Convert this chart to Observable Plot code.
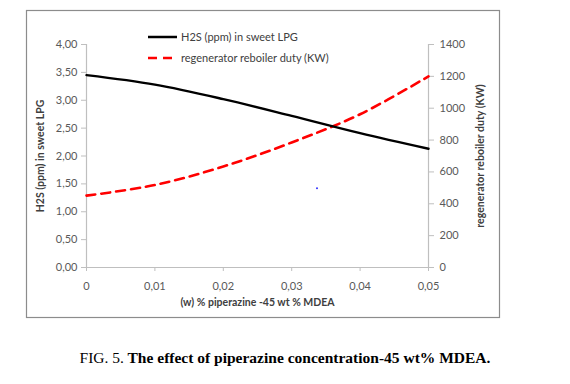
<!DOCTYPE html>
<html>
<head>
<meta charset="utf-8">
<script src="https://cdn.jsdelivr.net/npm/d3@7"></script>
<script src="https://cdn.jsdelivr.net/npm/@observablehq/plot@0.6"></script>
<style>
  body { margin: 0; background: #fff; }
  #wrap { position: relative; width: 570px; height: 384px; font-family: Lato, "Open Sans", sans-serif; }
  #legend { position: absolute; left: 148px; top: 26px; font-size: 11px; color: #404040; }
  #legend div { height: 21px; display: flex; align-items: center; }
  #legend svg { margin-right: 4px; }
  #caption { position: absolute; left: 0; width: 570px; top: 349px; text-align: center; font-family: "Liberation Serif", "Times New Roman", serif; font-size: 15.5px; font-weight: bold; color: #000; }
  #caption span { font-weight: normal; }
  #chart { position: absolute; left: 0; top: 0; }
</style>
</head>
<body>
<div id="wrap">
  <div id="chart"></div>
  <div id="legend">
    <div><svg width="29" height="6"><line x1="0" x2="29" y1="3" y2="3" stroke="#000" stroke-width="2.5"/></svg>H2S (ppm) in sweet LPG</div>
    <div><svg width="29" height="6"><line x1="0" x2="29" y1="3" y2="3" stroke="#ff0000" stroke-width="2.5" stroke-dasharray="9,6"/></svg>regenerator reboiler duty (KW)</div>
  </div>
  <div id="caption"><span>FIG. 5.</span> The effect of piperazine concentration-45 wt% MDEA.</div>
</div>
<script>
// Data
const piperazine = [0, 0.01, 0.02, 0.03, 0.04, 0.05];
const h2s = [3.45, 3.28, 3.02, 2.72, 2.41, 2.13];          // ppm, left axis
const duty = [451, 518, 634, 785, 962, 1200];               // KW, right axis
const strayPoint = [{x: 0.0337, y: 1.42}];                  // small blue artifact in the reference

const xTicks = [0, 0.01, 0.02, 0.03, 0.04, 0.05];
const leftTicks = [0, 0.5, 1, 1.5, 2, 2.5, 3, 3.5, 4];
const rightTicks = [0, 200, 400, 600, 800, 1000, 1200, 1400];

const ratio = 1400 / 4; // right axis units per left axis unit

const h2sData = piperazine.map((x, i) => ({x, y: h2s[i]}));
const dutyData = piperazine.map((x, i) => ({x, y: duty[i] / ratio}));

const fmtComma = d => d === 0 ? "0" : String(d).replace(".", ",");
const axisColor = "#bfbfbf";
const textColor = "#595959";

const chart = Plot.plot({
  width: 570,
  height: 330,
  marginLeft: 86,
  marginRight: 142,
  marginTop: 44,
  marginBottom: 63,
  style: {fontFamily: "Lato, 'Open Sans', sans-serif", fontSize: "11px", color: textColor, background: "transparent"},
  x: {domain: [0, 0.05]},
  y: {domain: [0, 4]},
  marks: [
    Plot.frame({stroke: "#8c8c8c", strokeWidth: 1.2, insetLeft: -60, insetRight: -71, insetTop: -34, insetBottom: -50}),
    Plot.ruleX([0], {stroke: axisColor, strokeWidth: 1.2}),
    Plot.ruleX([0.05], {stroke: axisColor, strokeWidth: 1.2}),
    Plot.ruleY([0], {stroke: axisColor, strokeWidth: 1.2}),
    Plot.axisX({ticks: xTicks, tickFormat: fmtComma, tickSize: 4, tickPadding: 11, stroke: axisColor, fill: textColor, label: null}),
    Plot.axisY({ticks: leftTicks, tickFormat: d => d.toFixed(2).replace(".", ","), tickSize: 5, tickPadding: 4, stroke: axisColor, fill: textColor, label: null}),
    Plot.axisY({anchor: "right", ticks: rightTicks.map(d => d / ratio), tickFormat: d => String(Math.round(d * ratio)), tickSize: 5, tickPadding: 6, stroke: axisColor, fill: textColor, label: null}),
    Plot.text(["(w) % piperazine -45 wt % MDEA"], {frameAnchor: "bottom", dy: 38, fontWeight: "bold", fontSize: 10.5, fill: "#404040"}),
    Plot.text(["H2S (ppm) in sweet LPG"], {frameAnchor: "left", textAnchor: "middle", dx: -46, rotate: -90, fontWeight: "bold", fontSize: 10.5, fill: "#404040"}),
    Plot.text(["regenerator reboiler duty (KW)"], {frameAnchor: "right", textAnchor: "middle", dx: 52, rotate: -90, fontWeight: "bold", fontSize: 10.5, fill: "#404040"}),
    Plot.line(dutyData, {x: "x", y: "y", stroke: "#ff0000", strokeWidth: 2.6, strokeDasharray: "9,6", curve: "catmull-rom"}),
    Plot.line(h2sData, {x: "x", y: "y", stroke: "#000", strokeWidth: 2.4, curve: "catmull-rom"}),
    Plot.dot(strayPoint, {x: "x", y: "y", r: 1, fill: "#3333ff", stroke: null})
  ]
});
document.getElementById("chart").appendChild(chart);
</script>
</body>
</html>
